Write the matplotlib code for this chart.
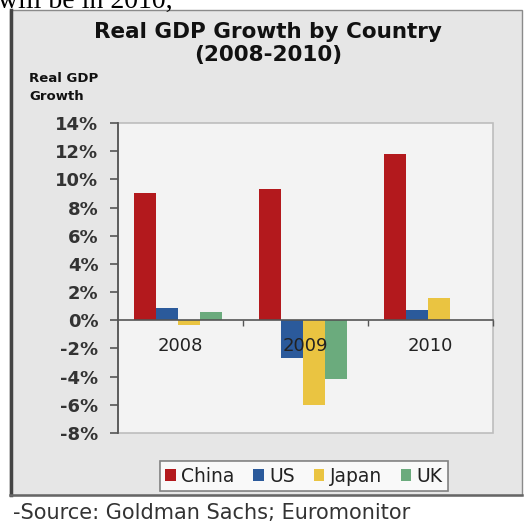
import matplotlib
matplotlib.use("Agg")
import matplotlib.pyplot as plt
from matplotlib.patches import Rectangle
import numpy as np

years = ["2008", "2009", "2010"]
countries = ["China", "US", "Japan", "UK"]
china = [9.0, 9.3, 11.8]
us = [0.9, -2.7, 0.7]
japan = [-0.3, -6.0, 1.6]
uk = [0.6, -4.2, 0.05]
yticks = [-8, -6, -4, -2, 0, 2, 4, 6, 8, 10, 12, 14]

colors = ["#b3191d", "#2b5a9b", "#eac441", "#6bab7d"]

W, H = 529, 523
fig = plt.figure(figsize=(W / 100, H / 100), dpi=100)
plt.rcParams["font.family"] = ["DejaVu Sans"]


def fx(px):
    return px / W


def fy(py):
    return 1 - py / H


# outer grey chart box
box = Rectangle((fx(10), fy(495)), fx(522) - fx(10), fy(10) - fy(495),
                transform=fig.transFigure, facecolor="#e6e6e6",
                edgecolor="#8a8a8a", linewidth=1.0, zorder=0)
fig.patches.append(box)
fig.add_artist(plt.Line2D([fx(11), fx(11)], [fy(10), fy(495)],
                          transform=fig.transFigure, color="#444444", linewidth=2.5))
fig.add_artist(plt.Line2D([fx(10), fx(522)], [fy(495), fy(495)],
                          transform=fig.transFigure, color="#666666", linewidth=1.8))

ax = fig.add_axes([fx(118), fy(433), fx(493) - fx(118), fy(123) - fy(433)])
ax.set_zorder(2)
ax.set_facecolor("#f3f3f3")
ax.set_axisbelow(False)  # year labels sit on top of the 2009 bars

x = np.arange(len(years))
bw = 0.175
series = [china, us, japan, uk]
for i, (name, vals) in enumerate(zip(countries, series)):
    ax.bar(x + (i - 1.5) * bw - 0.02, vals, bw, color=colors[i], label=name, zorder=2)

ax.set_xlim(-0.5, 2.5)
ax.set_ylim(-8, 14)
ax.set_yticks(yticks)
ax.set_yticklabels(["%d%%" % v for v in yticks], fontsize=13,
                   fontweight="bold", color="#333333")
ax.tick_params(axis="y", length=6, width=1.2, color="#555555", pad=8)

ax.spines["bottom"].set_position(("data", 0))
ax.spines["bottom"].set_color("#555555")
ax.spines["bottom"].set_linewidth(1.2)
ax.spines["bottom"].set_zorder(4)
ax.spines["left"].set_color("#555555")
ax.spines["left"].set_linewidth(1.3)
ax.spines["top"].set_visible(False)
ax.spines["right"].set_visible(False)
ax.set_xticks(x)
ax.set_xticklabels(years, fontsize=13, color="#222222")
ax.set_xticks([0.5, 1.5, 2.5], minor=True)
ax.tick_params(axis="x", which="major", length=0, pad=12)
ax.tick_params(axis="x", which="minor", length=4, width=1.0, color="#555555")
ax.add_patch(Rectangle((0, 0), 1, 1, transform=ax.transAxes, fill=False,
                       edgecolor="#bdbdbd", linewidth=1.2, zorder=1, clip_on=False))

fig.text(fx(268), fy(32), "Real GDP Growth by Country", ha="center", va="center",
         fontsize=15.5, fontweight="bold", color="#111111")
fig.text(fx(268), fy(55), "(2008-2010)", ha="center", va="center",
         fontsize=15.5, fontweight="bold", color="#111111")
fig.text(fx(29), fy(78), "Real GDP", ha="left", va="center",
         fontsize=9.5, fontweight="bold", color="#111111")
fig.text(fx(29), fy(97), "Growth", ha="left", va="center",
         fontsize=9.5, fontweight="bold", color="#111111")

handles, labels = ax.get_legend_handles_labels()
leg = fig.legend(handles, labels, loc="center", bbox_to_anchor=(fx(304), fy(476)),
                 ncol=4, fontsize=13.5, frameon=True, fancybox=False,
                 handlelength=0.55, handleheight=0.55, handletextpad=0.3,
                 columnspacing=1.0, borderpad=0.3)
leg.get_frame().set_edgecolor("#666666")
leg.get_frame().set_linewidth(1.2)
leg.get_frame().set_facecolor("white")
for t in leg.get_texts():
    t.set_color("#222222")

fig.text(fx(13), fy(513), "-Source: Goldman Sachs; Euromonitor", ha="left",
         va="center", fontsize=15, color="#333333")
fig.text(fx(-2), fy(8), "will be in 2010,", ha="left", va="baseline",
         fontsize=20, family="Liberation Serif", color="black")

fig.savefig("out.png", dpi=100)
